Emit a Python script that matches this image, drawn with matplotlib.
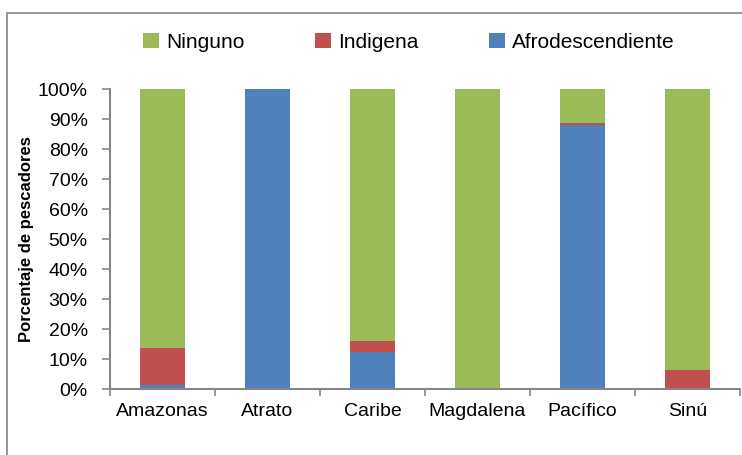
import matplotlib
matplotlib.use("Agg")
import matplotlib.pyplot as plt
from matplotlib.patches import Rectangle
from matplotlib.ticker import FixedLocator, PercentFormatter

plt.rcParams["font.family"] = ["Liberation Sans", "DejaVu Sans"]

regions = ["Amazonas", "Atrato", "Caribe", "Magdalena", "Pacífico", "Sinú"]
afro = [1.2, 100.0, 12.3, 0.0, 88.0, 0.0]
indigena = [12.4, 0.0, 3.7, 0.0, 0.7, 6.3]
ninguno = [86.4, 0.0, 84.0, 100.0, 11.3, 93.7]

green = "#9BBB59"
red = "#C0504D"
blue = "#4F81BD"
axis_gray = "#868686"

fig = plt.figure(figsize=(7.42, 4.55), dpi=100)
ax = fig.add_axes([110 / 742, 1 - 389 / 455, 630 / 742, 300 / 455])

x = range(len(regions))
width = 0.42
ax.bar(x, afro, width, color=blue, label="Afrodescendiente")
ax.bar(x, indigena, width, bottom=afro, color=red, label="Indigena")
bottom2 = [a + b for a, b in zip(afro, indigena)]
ax.bar(x, ninguno, width, bottom=bottom2, color=green, label="Ninguno")

ax.set_xlim(-0.5, len(regions) - 0.5)
ax.set_ylim(0, 100)
ax.set_xticks(list(x))
ax.set_xticklabels(regions, fontsize=14)
ax.tick_params(axis="x", length=0, pad=10)
ax.xaxis.set_minor_locator(FixedLocator([i - 0.5 for i in range(len(regions) + 1)]))
ax.tick_params(axis="x", which="minor", length=5, color=axis_gray, width=1.2)
ax.set_yticks(range(0, 101, 10))
ax.yaxis.set_major_formatter(PercentFormatter(decimals=0))
ax.tick_params(axis="y", labelsize=14, length=6, color=axis_gray, width=1.2, pad=10)
ax.set_ylabel("Porcentaje de pescadores", fontsize=12, fontweight="bold", labelpad=3)

for side in ["top", "right"]:
    ax.spines[side].set_visible(False)
for side in ["left", "bottom"]:
    ax.spines[side].set_color(axis_gray)
    ax.spines[side].set_linewidth(1.5)

handles, labels = ax.get_legend_handles_labels()
order = [2, 1, 0]
fig.legend([handles[i] for i in order], [labels[i] for i in order],
           loc="center", bbox_to_anchor=(409 / 742, 1 - 42 / 455), ncol=3,
           frameon=False, fontsize=15, handlelength=0.75, handleheight=0.75,
           columnspacing=3.4, handletextpad=0.35)

# chart-area border (bottom edge runs past the image)
fig.patches.append(Rectangle((7 / 742, -0.05), 1.0, 1.05 - 13 / 455,
                             transform=fig.transFigure, fill=False,
                             edgecolor=axis_gray, linewidth=1.2))

fig.savefig("out.png", dpi=100)
